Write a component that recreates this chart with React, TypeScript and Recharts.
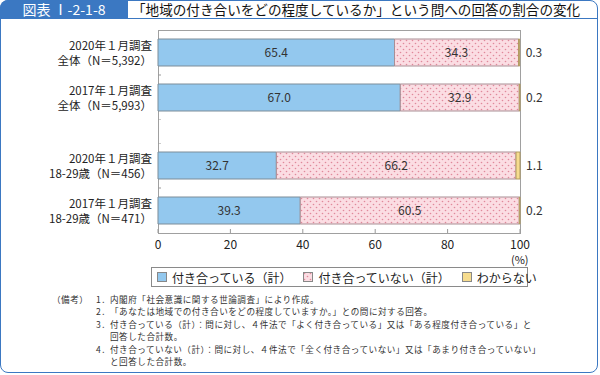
import React from "react";
import { BarChart, Bar, XAxis, YAxis, LabelList } from "recharts";

const surveyLabels = ["2020年１月調査", "2017年１月調査", "2020年１月調査", "2017年１月調査"];
const groupLabels = ["全体（N＝5,392）", "全体（N＝5,993）", "18-29歳（N＝456）", "18-29歳（N＝471）"];
const associating = [65.4, 67.0, 32.7, 39.3];
const notAssociating = [34.3, 32.9, 66.2, 60.5];
const unknown = [0.3, 0.2, 1.1, 0.2];
const xTicks = [0, 20, 40, 60, 80, 100];
const seriesNames = ["付き合っている（計）", "付き合っていない（計）", "わからない"];
const notes = [
  ["1．", "内閣府「社会意識に関する世論調査」により作成。"],
  ["2．", "「あなたは地域での付き合いをどの程度していますか。」との問に対する回答。"],
  ["3．", "付き合っている（計）：問に対し、４件法で「よく付き合っている」又は「ある程度付き合っている」と"],
  ["", "回答した合計数。"],
  ["4．", "付き合っていない（計）：問に対し、４件法で「全く付き合っていない」又は「あまり付き合っていない」"],
  ["", "と回答した合計数。"],
];

const rows = surveyLabels.map((s, i) => ({
  key: `r${i}`,
  survey: s,
  group: groupLabels[i],
  a: associating[i],
  b: notAssociating[i],
  c: unknown[i],
}));
const rowByKey: Record<string, any> = Object.fromEntries(rows.map((r) => [r.key, r]));

const FONT = "'Noto Sans CJK JP', 'Noto Sans', sans-serif";
const BLUE = "#93c8ee";
const YELLOW = "#f6dc8e";
const PINK = "url(#pinkDots)";
const FRAME = "#3b78c2";
const colors = [BLUE, PINK, YELLOW];

const fmt = (v: any) => Number(v).toFixed(1);

function YTick(props: any) {
  const { x, y, payload, edge } = props;
  const row = rowByKey[payload.value];
  return (
    <g>
      <text x={x - 6} y={y - 7.5} textAnchor="end" dominantBaseline="central" fontSize={11.5} fill="#222" fontFamily={FONT}>
        {row.survey}
      </text>
      <text x={x - 6} y={y + 7.5} textAnchor="end" dominantBaseline="central" fontSize={11.5} fill="#222" fontFamily={FONT}>
        {row.group}
      </text>
      <line x1={x} x2={x + 3} y1={y + edge} y2={y + edge} stroke="#999" />
    </g>
  );
}

function XTick(props: any) {
  const { x, y, payload } = props;
  return (
    <g>
      <line x1={x} x2={x} y1={y - 4} y2={y} stroke="#999" />
      <text x={x} y={y + 10} textAnchor="middle" dominantBaseline="central" fontSize={12} fill="#222" fontFamily={FONT}>
        {payload.value}
      </text>
    </g>
  );
}

function Bars() {
  return [
    <Bar key="a" dataKey="a" stackId="s" fill={BLUE} stroke="#7d8d99" barSize={27} isAnimationActive={false}>
      <LabelList dataKey="a" position="center" formatter={fmt} fill="#333" fontSize={12} fontFamily={FONT} />
    </Bar>,
    <Bar key="b" dataKey="b" stackId="s" fill={PINK} stroke="#a98f95" barSize={27} isAnimationActive={false}>
      <LabelList dataKey="b" position="center" formatter={fmt} fill="#333" fontSize={12} fontFamily={FONT} />
    </Bar>,
    <Bar key="c" dataKey="c" stackId="s" fill={YELLOW} stroke="#b09a60" barSize={27} isAnimationActive={false}>
      <LabelList dataKey="c" position="right" offset={6} formatter={fmt} fill="#333" fontSize={12} fontFamily={FONT} />
    </Bar>,
  ];
}

export default function App() {
  return (
    <div style={{ position: "absolute", left: 0, top: 0, width: 600, height: 375, fontFamily: FONT, background: "#fff" }}>
      <svg width={0} height={0} style={{ position: "absolute" }}>
        <defs>
          <pattern id="pinkDots" width={6} height={6} patternUnits="userSpaceOnUse">
            <rect width={6} height={6} fill="#fbdde3" />
            <circle cx={1.5} cy={1.5} r={0.8} fill="#e0899b" />
            <circle cx={4.5} cy={4.5} r={0.8} fill="#e0899b" />
          </pattern>
        </defs>
      </svg>

      {/* outer frame and title */}
      <div style={{ position: "absolute", left: 0, top: 0, width: 598, height: 373, boxSizing: "border-box", border: `1.5px solid ${FRAME}`, borderRadius: 8 }} />
      <div style={{ position: "absolute", left: 0, top: 18, width: 598, height: 0, borderTop: `1.5px solid ${FRAME}` }} />
      <div style={{ position: "absolute", left: 0, top: 0, width: 128, height: 19, background: FRAME, borderTopLeftRadius: 8, color: "#fff", fontSize: 14, lineHeight: "19px", textAlign: "center" }}>
        図表 Ⅰ-2-1-8
      </div>
      <div style={{ position: "absolute", left: 132, top: 0, height: 19, fontSize: 13.6, lineHeight: "19px", color: "#111", whiteSpace: "nowrap" }}>
        「地域の付き合いをどの程度しているか」という問への回答の割合の変化
      </div>

      {/* plot frame */}
      <div style={{ position: "absolute", left: 158, top: 30, width: 363, height: 204, boxSizing: "border-box", border: "1px solid #a0a0a0" }} />

      <div style={{ position: "absolute", left: 0, top: 30 }}>
        <BarChart width={600} height={90} data={rows.slice(0, 2)} layout="vertical" margin={{ top: 0, right: 80, bottom: 0, left: 0 }}>
          <XAxis type="number" domain={[0, 100]} hide />
          <YAxis type="category" dataKey="key" width={158} axisLine={false} tickLine={false} tickSize={0} tickMargin={0} tick={(p: any) => <YTick {...p} edge={22.5} />} />
          {Bars()}
        </BarChart>
      </div>

      <div style={{ position: "absolute", left: 0, top: 143 }}>
        <BarChart width={600} height={118} data={rows.slice(2)} layout="vertical" margin={{ top: 0, right: 80, bottom: 0, left: 0 }}>
          <XAxis type="number" domain={[0, 100]} ticks={xTicks} height={28} axisLine={false} tickLine={false} tickSize={0} tickMargin={0} tick={(p: any) => <XTick {...p} />} />
          <YAxis type="category" dataKey="key" width={158} axisLine={false} tickLine={false} tickSize={0} tickMargin={0} tick={(p: any) => <YTick {...p} edge={-22.5} />} />
          {Bars()}
        </BarChart>
      </div>

      <div style={{ position: "absolute", left: 511, top: 253, fontSize: 11, color: "#222", lineHeight: "12px" }}>(%)</div>

      {/* legend */}
      <div style={{ position: "absolute", left: 151, top: 267, width: 377, height: 20, boxSizing: "border-box", border: "1px solid #8a8a8a", display: "flex", alignItems: "center", fontSize: 12, color: "#222", whiteSpace: "nowrap" }}>
        {seriesNames.map((n, i) => (
          <div key={n} style={{ display: "flex", alignItems: "center", marginLeft: i === 0 ? 5 : 12 }}>
            <svg width={10} height={10} style={{ marginRight: 5 }}>
              <rect x={0.5} y={0.5} width={9} height={9} fill={colors[i]} stroke="#888" />
            </svg>
            <span>{n}</span>
          </div>
        ))}
      </div>

      {/* notes */}
      <div style={{ position: "absolute", left: 52, top: 293, fontSize: 8.6, letterSpacing: 0.5, color: "#333", lineHeight: "12px" }}>（備考）</div>
      {notes.map(([num, text], i) => (
        <div key={i} style={{ position: "absolute", left: 96, top: 293 + i * 12.4, fontSize: 8.6, letterSpacing: 0.5, color: "#333", lineHeight: "12px", whiteSpace: "nowrap" }}>
          <span style={{ display: "inline-block", width: 14 }}>{num}</span>
          {text}
        </div>
      ))}
    </div>
  );
}
